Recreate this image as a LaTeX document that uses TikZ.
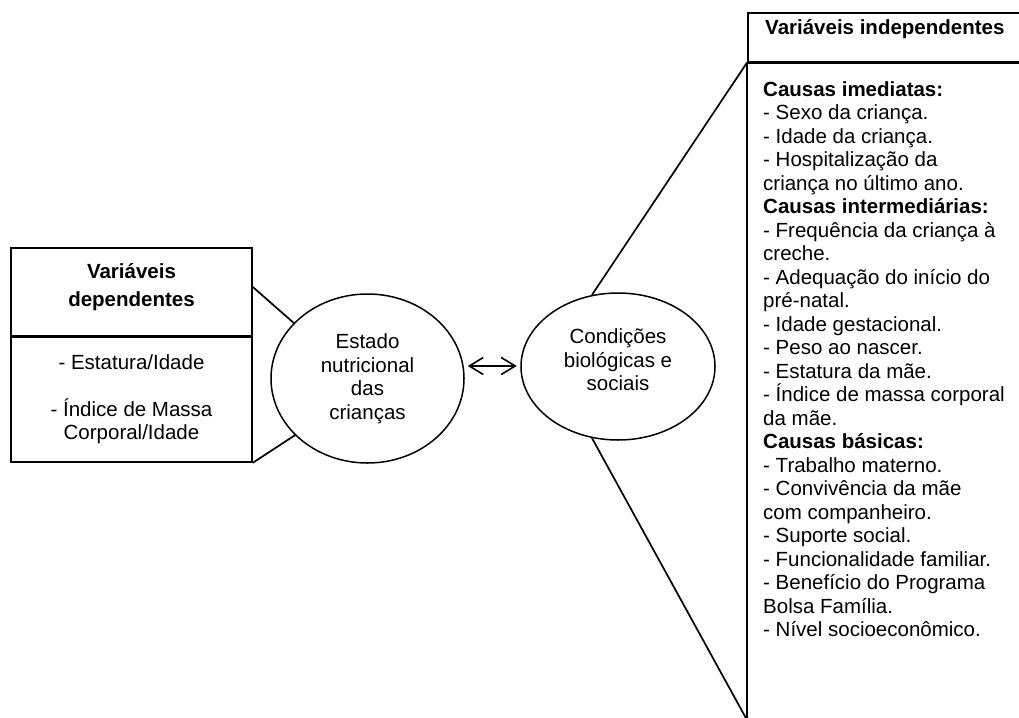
\documentclass[tikz,border=0pt]{standalone}
\usepackage{fontspec}
\setmainfont{Liberation Sans}
\usetikzlibrary{shapes.geometric,arrows.meta,calc}
\begin{document}
\begin{tikzpicture}[x=1pt,y=-1pt,
  every node/.style={font=\fontsize{20.5}{23.5}\selectfont},
  box/.style={draw, line width=1.6pt, rectangle, inner sep=0pt},
  oval/.style={draw, line width=1.5pt, ellipse, inner sep=0pt, align=center},
  txt/.style={inner sep=0pt, align=center},
  link/.style={line width=1.7pt},
  divider/.style={line width=2.8pt},
  dbl/.style={line width=1.6pt, {Straight Barb[length=14pt,width=17pt]}-{Straight Barb[length=14pt,width=17pt]}}
]
\clip (0,0) rectangle (1019,717);
\fill[white] (0,0) rectangle (1019,717);

% left box
\node[box, minimum width=241pt, minimum height=88pt] (lh) at (131.5,292) {};
\node[txt, font=\bfseries\fontsize{20.5}{27.5}\selectfont] (lht) at (131.5,287) {Variáveis\\dependentes};
\node[box, minimum width=241pt, minimum height=126pt, align=center] (lb) at (131.5,399) {- Estatura/Idade\\[23.5pt]- Índice de Massa\\Corporal/Idade};
\draw[divider] (lh.south west) -- (lh.south east);

% ellipses
\node[oval, minimum width=193pt, minimum height=169pt] (e1) at (367.5,378.5) {Estado\\nutricional\\das\\crianças};
\node[oval, minimum width=194pt, minimum height=147pt] (e2) at (618,366.5) {};
\node[txt] (e2t) at (618,360) {Condições\\biológicas e\\sociais};

% right box
\node[box, anchor=north west, minimum width=300pt, minimum height=49pt] (rh) at (747,12) {};
\node[anchor=base west, inner sep=0pt, font=\bfseries\fontsize{20.5}{23.5}\selectfont] (rht) at (765,35) {Variáveis independentes};
\draw[divider] (rh.south west) -- (rh.south east);
\coordinate (rbot) at (747,720);
\draw[line width=1.6pt] (rh.south west) -- (rbot);
\node[anchor=north west, inner sep=0pt, align=left] (rb) at (763,81) {\textbf{Causas imediatas:}\\
- Sexo da criança.\\
- Idade da criança.\\
- Hospitalização da\\
criança no último ano.\\
\textbf{Causas intermediárias:}\\
- Frequência da criança à\\
creche.\\
- Adequação do início do\\
pré-natal.\\
- Idade gestacional.\\
- Peso ao nascer.\\
- Estatura da mãe.\\
- Índice de massa corporal\\
da mãe.\\
\textbf{Causas básicas:}\\
- Trabalho materno.\\
- Convivência da mãe\\
com companheiro.\\
- Suporte social.\\
- Funcionalidade familiar.\\
- Benefício do Programa\\
Bolsa Família.\\
- Nível socioeconômico.};

% connectors
\coordinate (ay) at (0,366);
\draw[link] ([yshift=5pt]lh.east) -- (e1.143);
\draw[link] (lb.south east) -- (e1.218);
\draw[dbl] ($(e1.east |- ay)+(3,0)$) -- ($(e2.west |- ay)+(-3.5,0)$);
\draw[link] (e2.110) -- (rh.south west);
\draw[link] (e2.250) -- (rbot);
\end{tikzpicture}
\end{document}
